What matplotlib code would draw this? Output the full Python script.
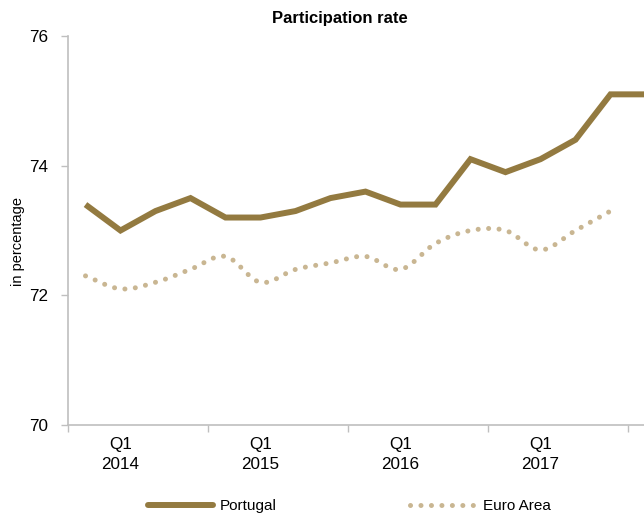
import numpy as np
import matplotlib
matplotlib.use("Agg")
import matplotlib.pyplot as plt

plt.rcParams['font.family'] = ['Liberation Sans', 'DejaVu Sans']

quarters = ["Q4\n2013", "Q1\n2014", "Q2\n2014", "Q3\n2014", "Q4\n2014",
            "Q1\n2015", "Q2\n2015", "Q3\n2015", "Q4\n2015",
            "Q1\n2016", "Q2\n2016", "Q3\n2016", "Q4\n2016",
            "Q1\n2017", "Q2\n2017", "Q3\n2017", "Q4\n2017"]
portugal = [73.4, 73.0, 73.3, 73.5, 73.2, 73.2, 73.3, 73.5, 73.6, 73.4,
            73.4, 74.1, 73.9, 74.1, 74.4, 75.1, 75.1]
euro_area = [72.3, 72.1, 72.2, 72.4, 72.6, 72.2, 72.4, 72.5, 72.6, 72.4,
             72.8, 73.0, 73.0, 72.7, 73.0, 73.3]
label_idx = [1, 5, 9, 13]
yticks = [70, 72, 74, 76]

def smooth(x, y, n=20):
    # Catmull-Rom spline (like spreadsheet "smoothed line")
    x = np.asarray(x, float); y = np.asarray(y, float)
    px = np.concatenate([[2*x[0]-x[1]], x, [2*x[-1]-x[-2]]])
    py = np.concatenate([[2*y[0]-y[1]], y, [2*y[-1]-y[-2]]])
    xs, ys = [], []
    for i in range(1, len(px)-2):
        t = np.linspace(0, 1, n, endpoint=False)
        for p, out in ((px, xs), (py, ys)):
            p0, p1, p2, p3 = p[i-1], p[i], p[i+1], p[i+2]
            out.extend(0.5*((2*p1) + (-p0+p2)*t + (2*p0-5*p1+4*p2-p3)*t**2
                            + (-p0+3*p1-3*p2+p3)*t**3))
    xs.append(x[-1]); ys.append(y[-1])
    return np.array(xs), np.array(ys)

W, H = 644, 514
fig = plt.figure(figsize=(W/100, H/100), dpi=100)
left, right, top, bottom = 68, 645.5, 36, 425
ax = fig.add_axes([left/W, 1-bottom/H, (right-left)/W, (bottom-top)/H])

col_pt = '#937A40'
col_ea = '#C9B692'

x_pt = np.arange(len(portugal))
x_ea = np.arange(len(euro_area))
lw_pt = 4.3
ax.plot(x_pt, portugal, color=col_pt, lw=lw_pt, solid_joinstyle='miter',
        solid_capstyle='butt', label='Portugal', zorder=3)
sx, sy = smooth(x_ea, euro_area)
lw_ea = 3.6
ax.plot(sx, sy, color=col_ea, lw=lw_ea, linestyle=(0, (0.01, 7.5/lw_ea)),
        dash_capstyle='round', label='Euro Area', zorder=2)

ax.set_xlim(-0.5, 16)
ax.set_ylim(70, 76)
ax.set_yticks(yticks)
ax.set_yticklabels([str(v) for v in yticks])
ax.set_xticks([-0.5, 3.5, 7.5, 11.5, 15.5])
ax.set_xticklabels([])
ax.set_xticks(label_idx, minor=True)
ax.set_xticklabels([quarters[i] for i in label_idx], minor=True, linespacing=1.4)
ax.tick_params(axis='x', which='minor', length=0, pad=9, labelsize=12.3)
ax.tick_params(axis='x', which='major', length=5, color='#BFBFBF', width=1)
ax.tick_params(axis='y', length=5, color='#BFBFBF', width=1, labelsize=12.3, pad=9)
for s in ['top', 'right']:
    ax.spines[s].set_visible(False)
for s in ['left', 'bottom']:
    ax.spines[s].set_color('#BFBFBF')
    ax.spines[s].set_linewidth(1.2)

fig.text(340/W, 1-18/H, 'Participation rate', ha='center', va='center',
         fontsize=12, fontweight='bold', family=['Liberation Sans Narrow', 'Liberation Sans'])
fig.text(18/W, 1-242/H, 'in percentage', rotation=90, ha='center', va='center', fontsize=10.5)

leg = fig.legend(loc='center', bbox_to_anchor=(349/W, 1-506/H), ncol=2, frameon=False,
                 fontsize=11, handlelength=4.3, handletextpad=0.45, columnspacing=8.7)
leg.get_lines()[0].set_solid_capstyle('round')

fig.savefig('out.png', dpi=100)
